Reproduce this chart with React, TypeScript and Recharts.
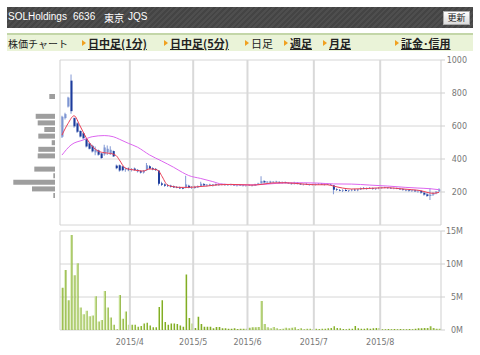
import React from 'react';
import {
  ComposedChart,
  BarChart,
  Bar,
  Line,
  XAxis,
  YAxis,
  CartesianGrid,
  ReferenceLine,
  Cell,
} from 'recharts';

// daily candles, 2015/2/27 .. 2015/8/28 (index = trading day)
const opens = [
  535, 648, 718, 875, 648, 616, 570, 556, 520, 495,
  480, 440, 452, 434, 428, 440, 430, 448, 360, 362,
  355, 336, 344, 334, 342, 334, 326, 318, 332, 356,
  344, 340, 330, 252, 246, 240, 238, 234, 230, 228,
  224, 226, 238, 228, 230, 228, 236, 248, 240, 244,
  240, 246, 242, 246, 244, 242, 246, 242, 240, 244,
  240, 238, 242, 240, 238, 248, 252, 266, 258, 262,
  258, 262, 260, 256, 260, 254, 252, 248, 256, 250,
  246, 248, 244, 246, 244, 248, 250, 246, 248, 246,
  240, 216, 212, 208, 212, 206, 210, 214, 210, 216,
  224, 220, 224, 222, 218, 222, 226, 228, 226, 224,
  222, 224, 220, 216, 212, 210, 206, 210, 204, 206,
  196, 186, 176, 184, 192, 204,
];
const highs = [
  662, 680, 778, 912, 652, 622, 575, 560, 525, 500,
  486, 476, 458, 438, 486, 482, 478, 452, 366, 366,
  358, 348, 350, 346, 348, 340, 332, 334, 376, 362,
  350, 346, 332, 262, 252, 248, 244, 240, 236, 234,
  230, 298, 244, 236, 238, 240, 262, 254, 248, 250,
  248, 252, 250, 252, 250, 248, 250, 248, 246, 248,
  246, 244, 248, 246, 250, 256, 296, 272, 266, 268,
  266, 268, 266, 264, 264, 260, 258, 262, 260, 254,
  252, 254, 250, 250, 252, 254, 254, 252, 252, 250,
  242, 222, 218, 216, 218, 212, 218, 220, 218, 228,
  230, 228, 230, 228, 226, 230, 232, 232, 230, 230,
  228, 228, 226, 222, 218, 216, 214, 214, 212, 210,
  200, 196, 222, 200, 206, 222,
];
const lows = [
  528, 640, 712, 675, 590, 558, 530, 520, 470, 458,
  440, 422, 420, 400, 420, 424, 424, 412, 338, 322,
  326, 322, 326, 324, 328, 318, 312, 312, 330, 336,
  332, 328, 240, 236, 232, 230, 228, 224, 222, 218,
  216, 222, 222, 218, 220, 224, 232, 236, 234, 236,
  234, 238, 236, 240, 238, 236, 240, 236, 234, 238,
  234, 232, 236, 234, 236, 244, 250, 252, 252, 254,
  252, 256, 252, 250, 252, 248, 244, 246, 246, 242,
  240, 242, 238, 240, 240, 242, 244, 240, 242, 240,
  186, 206, 204, 200, 204, 200, 204, 206, 204, 212,
  216, 214, 218, 214, 212, 216, 220, 222, 218, 218,
  216, 216, 214, 208, 204, 202, 200, 200, 196, 190,
  178, 170, 152, 176, 186, 200,
];
const closes = [
  656, 672, 772, 690, 598, 565, 536, 526, 476, 462,
  446, 458, 426, 406, 470, 462, 456, 416, 344, 330,
  332, 340, 332, 340, 334, 326, 318, 330, 362, 342,
  338, 334, 250, 244, 238, 236, 232, 228, 226, 222,
  220, 246, 226, 232, 226, 236, 250, 240, 244, 240,
  246, 242, 246, 244, 242, 246, 242, 240, 244, 240,
  238, 242, 240, 238, 248, 252, 266, 258, 262, 258,
  262, 260, 256, 260, 254, 252, 248, 256, 250, 246,
  248, 244, 246, 244, 248, 250, 246, 248, 246, 244,
  214, 212, 208, 212, 206, 210, 214, 210, 216, 224,
  220, 224, 222, 218, 222, 226, 228, 226, 224, 222,
  224, 220, 216, 212, 210, 206, 210, 204, 206, 196,
  184, 176, 184, 192, 202, 216,
];
// volume in millions of shares
const volumes = [
  6.4, 9.1, 4.5, 14.4, 8.3, 10.1, 3.4, 2.4, 2.9, 2.1,
  2.2, 5.1, 1.3, 1.5, 5.9, 3.4, 1.9, 0.8, 0.1, 5.3,
  1.7, 2.8, 0.8, 0.8, 0.8, 0.5, 0.6, 1.0, 1.1, 0.7,
  0.4, 0.4, 3.5, 4.5, 1.2, 0.8, 1.0, 1.0, 0.9, 0.7,
  0.5, 8.4, 1.8, 1.0, 0.3, 2.0, 0.9, 0.5, 0.5, 0.5,
  0.25, 0.45, 0.45, 0.25, 0.25, 0.2, 0.2, 0.25, 0.15, 0.2,
  0.2, 0.2, 0.35, 0.4, 0.4, 0.45, 4.4, 0.9, 0.4, 0.25,
  0.45, 0.25, 0.15, 0.2, 0.35, 0.25, 0.35, 0.4, 0.15, 0.25,
  0.1, 0.2, 0.2, 0.1, 0.2, 0.15, 0.2, 0.2, 0.25, 0.3,
  0.55, 0.3, 0.25, 0.15, 0.1, 0.2, 0.2, 0.6, 0.25, 0.2,
  0.2, 0.25, 0.2, 0.25, 0.3, 0.3, 0.1, 0.1, 0.15, 0.1,
  0.15, 0.1, 0.15, 0.1, 0.1, 0.15, 0.1, 0.2, 0.25, 0.25,
  0.3, 0.3, 0.55, 0.3, 0.2, 0.2,
];

// moving averages (day index -> price)
const maShortIdx = [0, 2, 4, 6, 8, 10, 12, 14, 16, 18, 19, 21, 24, 27, 29, 31, 32, 33, 35, 37, 39, 42, 45, 48, 52, 56, 60, 63, 66, 70, 74, 80, 84, 88, 90, 93, 96, 100, 104, 108, 112, 116, 119, 121, 123, 125];
const maShortVal = [545, 615, 662, 600, 530, 478, 448, 438, 434, 420, 395, 345, 333, 327, 340, 336, 329, 300, 242, 232, 228, 228, 232, 236, 244, 246, 244, 242, 246, 255, 256, 248, 244, 244, 236, 224, 218, 220, 224, 226, 220, 214, 208, 198, 192, 198];
const maLongIdx = [0, 3, 7, 10, 14, 17, 19, 22, 25, 29, 33, 37, 40, 42, 46, 50, 53, 58, 63, 68, 74, 80, 85, 90, 96, 102, 108, 114, 118, 122, 125];
const maLongVal = [424, 485, 515, 535, 542, 535, 520, 495, 472, 425, 388, 350, 318, 300, 282, 263, 248, 244, 243, 248, 255, 256, 254, 249, 248, 242, 236, 228, 224, 220, 214];

// volume-by-price histogram on the left
const histPrices = [180, 220, 260, 300, 340, 380, 420, 460, 500, 540, 580, 620, 660, 700, 740, 780];
const histVals = [1.7, 23, 41.7, 1.7, 20.7, 0, 17.3, 16.7, 3.3, 16.7, 10.7, 17.3, 19.3, 0, 0, 5.7];

const monthTicks = [22.5, 43.5, 61.5, 83.5, 105.5];
const monthLabels = ['2015/4', '2015/5', '2015/6', '2015/7', '2015/8'];
const priceTicks = [0, 200, 400, 600, 800, 1000];
const volTicks = [0, 5, 10, 15];

const rows = closes.map((c, i) => ({
  i,
  wick: [lows[i], highs[i]],
  body: [Math.min(opens[i], c), Math.max(opens[i], c)],
  up: c >= opens[i],
  vol: volumes[i],
  maS: null as number | null,
  maL: null as number | null,
}));
maShortIdx.forEach((d, k) => { rows[d].maS = maShortVal[k]; });
maLongIdx.forEach((d, k) => { rows[d].maL = maLongVal[k]; });

const histRows = histPrices.map((p, k) => ({ p, v: histVals[k] }));

const X_DOMAIN: [number, number] = [-0.66, 125.66];
const FONT = '"DejaVu Sans", Verdana, sans-serif';
const GRID = '#d6d6d6';
const VGRID = '#d9d9d9';

const rightTick = (off: number, fmt: (v: number) => string) => (props: any) => (
  <text
    x={props.x + off}
    y={props.y}
    dy={3}
    textAnchor="end"
    fontSize={8}
    fill="#777"
    fontFamily={FONT}
  >
    {fmt(props.payload.value)}
  </text>
);

const tabs = [
  { label: '日中足(1分)', x: 88, link: true },
  { label: '日中足(5分)', x: 170, link: true },
  { label: '日足', x: 251, link: false },
  { label: '週足', x: 290, link: true },
  { label: '月足', x: 329, link: true },
  { label: '証金･信用', x: 401, link: true },
];

const jp = '"Noto Sans CJK JP", sans-serif';

export default function App() {
  return (
    <div style={{ position: 'absolute', left: 0, top: 0, width: 480, height: 355, background: '#fff', overflow: 'hidden' }}>
      {/* title bar */}
      <div
        style={{
          position: 'absolute', left: 7, top: 7, width: 466, height: 21,
          background: 'repeating-linear-gradient(135deg, #4e4e4e 0px, #4e4e4e 2px, #444 2px, #444 4px)',
          color: '#fff', fontSize: 10, fontFamily: '"Liberation Sans", Arial, ' + jp,
        }}
      >
        <span style={{ position: 'absolute', left: 1, top: 4 }}>SOLHoldings</span>
        <span style={{ position: 'absolute', left: 66, top: 4 }}>6636</span>
        <span style={{ position: 'absolute', left: 97, top: 3, fontFamily: jp }}>東京</span>
        <span style={{ position: 'absolute', left: 121, top: 4 }}>JQS</span>
        <div
          style={{
            position: 'absolute', left: 436, top: 4, width: 25, height: 12,
            background: 'linear-gradient(#ffffff, #dcdcdc)', border: '1px solid #aaa',
            color: '#222', fontSize: 9, fontFamily: jp, textAlign: 'center', lineHeight: '12px',
          }}
        >
          更新
        </div>
      </div>

      {/* tab bar */}
      <div
        style={{
          position: 'absolute', left: 7, top: 33, width: 466, height: 16,
          background: '#eaf3d8', borderTop: '2px solid #c3d6a8', fontFamily: jp,
        }}
      >
        <span style={{ position: 'absolute', left: 1, top: 1, fontSize: 10, color: '#222' }}>株価チャート</span>
        {tabs.map((t) => (
          <React.Fragment key={t.label}>
            <span
              style={{
                position: 'absolute', left: t.x - 13, top: 5, width: 0, height: 0,
                borderTop: '3px solid transparent', borderBottom: '3px solid transparent',
                borderLeft: '4px solid #f0a020',
              }}
            />
            <span
              style={{
                position: 'absolute', left: t.x - 7, top: 0, fontSize: 11, color: '#222',
                fontWeight: t.link ? 'bold' : 'normal',
                textDecoration: t.link ? 'underline' : 'none',
                whiteSpace: 'nowrap',
              }}
            >
              {t.label}
            </span>
          </React.Fragment>
        ))}
      </div>

      {/* volume-by-price */}
      <div style={{ position: 'absolute', left: 0, top: 0 }}>
        <BarChart
          width={56}
          height={228}
          data={histRows}
          layout="vertical"
          margin={{ top: 60, right: 1, bottom: 3, left: 12 }}
        >
          <XAxis type="number" domain={[0, 43]} reversed hide />
          <YAxis type="number" dataKey="p" domain={[0, 1000]} reversed hide />
          <Bar dataKey="v" fill="#9e9e9e" barSize={5} isAnimationActive={false} />
        </BarChart>
      </div>

      {/* price chart */}
      <div style={{ position: 'absolute', left: 0, top: 0 }}>
        <ComposedChart
          width={480}
          height={228}
          data={rows}
          margin={{ top: 60, right: 0, bottom: 3, left: 60 }}
        >
          <CartesianGrid vertical={false} stroke={GRID} />
          <XAxis type="number" dataKey="i" domain={X_DOMAIN} allowDataOverflow hide />
          <XAxis xAxisId="w" type="number" dataKey="i" domain={X_DOMAIN} allowDataOverflow hide />
          <YAxis
            orientation="right"
            type="number"
            domain={[0, 1000]}
            ticks={priceTicks}
            width={39}
            tickSize={4}
            tickMargin={2}
            stroke="#cfcfcf"
            tick={rightTick(20, (v) => String(v))}
          />
          {monthTicks.map((m) => (
            <ReferenceLine key={m} x={m} stroke={VGRID} strokeWidth={2} />
          ))}
          <ReferenceLine x={X_DOMAIN[0]} stroke="#cfcfcf" />
          <Bar xAxisId="w" dataKey="wick" barSize={1} fill="#8399d4" isAnimationActive={false} />
          <Bar dataKey="body" barSize={2} isAnimationActive={false}>
            {rows.map((r) => (
              <Cell key={r.i} fill={r.up ? '#7d95d2' : '#1d3c9c'} />
            ))}
          </Bar>
          <Line type="monotone" dataKey="maL" stroke="#dd66f0" strokeWidth={1} dot={false} connectNulls isAnimationActive={false} />
          <Line type="monotone" dataKey="maS" stroke="#ea3d55" strokeWidth={1} dot={false} connectNulls isAnimationActive={false} />
        </ComposedChart>
      </div>

      {/* volume chart */}
      <div style={{ position: 'absolute', left: 0, top: 0 }}>
        <ComposedChart
          width={480}
          height={355}
          data={rows}
          margin={{ top: 231, right: 0, bottom: 0, left: 60 }}
        >
          <defs>
            <linearGradient id="volFill" x1="0" y1="0" x2="1" y2="0">
              <stop offset="0%" stopColor="#c3de8e" />
              <stop offset="45%" stopColor="#c3de8e" />
              <stop offset="55%" stopColor="#82ab26" />
              <stop offset="100%" stopColor="#82ab26" />
            </linearGradient>
          </defs>
          <CartesianGrid vertical={false} stroke={GRID} />
          <XAxis
            type="number"
            dataKey="i"
            domain={X_DOMAIN}
            allowDataOverflow
            ticks={monthTicks}
            tickFormatter={(v: number) => monthLabels[monthTicks.indexOf(v)] || ''}
            height={25}
            tickLine={false}
            axisLine={false}
            tickMargin={3}
            tick={{ fontSize: 8, fill: '#777', fontFamily: FONT }}
          />
          <YAxis
            orientation="right"
            type="number"
            domain={[0, 15]}
            ticks={volTicks}
            width={39}
            tickSize={4}
            tickMargin={2}
            stroke="#cfcfcf"
            tick={rightTick(16, (v) => v + 'M')}
          />
          {monthTicks.map((m) => (
            <ReferenceLine key={m} x={m} stroke={VGRID} strokeWidth={2} />
          ))}
          <ReferenceLine x={X_DOMAIN[0]} stroke="#cfcfcf" />
          <Bar dataKey="vol" barSize={2} fill="url(#volFill)" isAnimationActive={false} />
        </ComposedChart>
      </div>
    </div>
  );
}
